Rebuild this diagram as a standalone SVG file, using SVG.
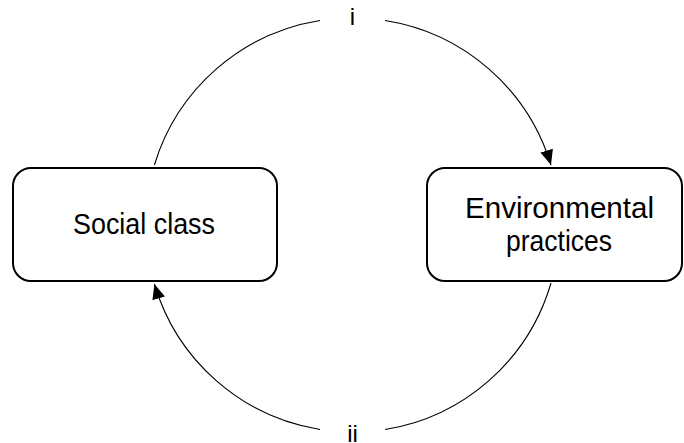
<svg xmlns="http://www.w3.org/2000/svg" width="684" height="443" viewBox="0 0 684 443">
  <style>
    .box { fill: #ffffff; stroke: #000000; stroke-width: 2; }
    .node-text { font-family: "Liberation Sans", Arial, sans-serif; font-size: 29px; fill: #000000; text-anchor: middle; }
    .arc { fill: none; stroke: #000000; stroke-width: 1.1; }
    .arc-label { font-family: "Liberation Sans", Arial, sans-serif; font-size: 24px; fill: #000000; text-anchor: middle; }
  </style>
  <defs>
    <marker id="arrow" markerUnits="userSpaceOnUse" viewBox="0 0 15 13" refX="15" refY="6.5" markerWidth="15" markerHeight="13" orient="auto">
      <path d="M0,0 L15,6.5 L0,13 z" fill="#000000"/>
    </marker>
  </defs>
  <rect width="684" height="443" fill="#ffffff"/>

  <g id="connectors">
    <!-- upper loop: social class to environmental practices -->
    <path class="arc" d="M 154.4 165 A 207 207 0 0 1 320 20.5"/>
    <path class="arc" d="M 385 20.5 A 207 207 0 0 1 551 165" marker-end="url(#arrow)"/>
    <text class="arc-label" x="352.5" y="25">i</text>
    <!-- lower loop: environmental practices back to social class -->
    <path class="arc" d="M 551 283 A 207 207 0 0 1 385 429.5"/>
    <path class="arc" d="M 320 429.5 A 207 207 0 0 1 154.4 284" marker-end="url(#arrow)"/>
    <text class="arc-label" x="352.5" y="441.5">ii</text>
  </g>

  <g id="social-class">
    <rect class="box" x="13" y="168" width="264" height="113" rx="18" ry="18"/>
    <text class="node-text" x="144" y="234" textLength="142" lengthAdjust="spacingAndGlyphs">Social class</text>
  </g>

  <g id="environmental-practices">
    <rect class="box" x="427" y="168" width="255" height="113" rx="18" ry="18"/>
    <text class="node-text" x="559.5" y="218" textLength="189" lengthAdjust="spacingAndGlyphs">Environmental</text>
    <text class="node-text" x="559" y="251" textLength="106" lengthAdjust="spacingAndGlyphs">practices</text>
  </g>
</svg>
